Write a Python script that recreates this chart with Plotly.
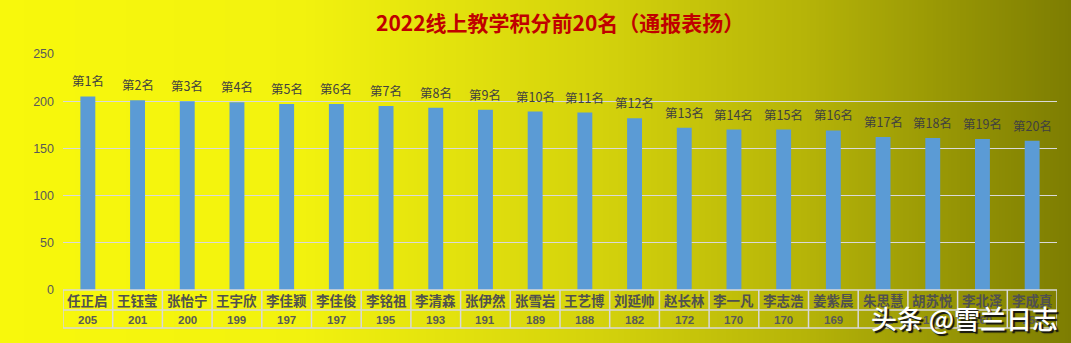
import plotly.graph_objects as go

# 2022 online teaching points: top 20 students
ranks = [f"第{i}名" for i in range(1, 21)]
names = ["任正启", "王钰莹", "张怡宁", "王宇欣", "李佳颖", "李佳俊", "李铭祖", "李清森",
         "张伊然", "张雪岩", "王艺博", "刘延帅", "赵长林", "李一凡", "李志浩", "姜紫晨",
         "朱思慧", "胡苏悦", "李北泽", "李成真"]
scores = [205, 201, 200, 199, 197, 197, 195, 193, 191, 189, 188, 182, 172, 170, 170, 169,
          162, 161, 160, 158]
y_ticks = [0, 50, 100, 150, 200, 250]

W, H = 1071, 343
ML, MR, MT, MB = 63, 14, 54, 53
PW, PH = W - ML - MR, H - MT - MB
CJK = "Noto Sans CJK SC"
GRID = "#D9D9D9"
TXT = "#404040"


def px_x(px):
    return (px - ML) / PW


def px_y(py):
    return (H - MB - py) / PH


def lerp_color(t):
    stops = [(0.0, (248, 248, 12)), (0.28, (242, 242, 14)), (0.56, (212, 210, 12)),
             (0.75, (182, 180, 8)), (1.0, (125, 125, 2))]
    for (t0, c0), (t1, c1) in zip(stops, stops[1:]):
        if t <= t1:
            f = (t - t0) / (t1 - t0)
            return "rgb(%d,%d,%d)" % tuple(round(a + (b - a) * f) for a, b in zip(c0, c1))
    return "rgb(%d,%d,%d)" % stops[-1][1]


shapes = []
# horizontal gradient background built from thin strips
step = 3
for x0 in range(0, W, step):
    shapes.append(dict(type="rect", xref="paper", yref="paper", layer="below",
                       x0=px_x(x0), x1=px_x(x0 + step + 0.5), y0=px_y(H), y1=px_y(0),
                       fillcolor=lerp_color((x0 + step / 2) / W), line_width=0))

n = len(names)
x = list(range(n))

# data table grid lines under the axis
row1_bot, row2_bot = 310, 328
line = dict(color=GRID, width=1.5)
shapes.append(dict(type="line", xref="x", yref="paper", x0=-0.5, x1=n - 0.5,
                   y0=px_y(H - MB), y1=px_y(H - MB), line=line))
left_tab = -0.5 + (23 - ML) / (PW / n)
for yy in (row1_bot, row2_bot):
    shapes.append(dict(type="line", xref="x", yref="paper", x0=left_tab, x1=n - 0.5,
                       y0=px_y(yy), y1=px_y(yy), line=line))
shapes.append(dict(type="line", xref="x", yref="paper", x0=left_tab, x1=left_tab,
                   y0=px_y(row1_bot), y1=px_y(row2_bot), line=line))
for i in range(n + 1):
    shapes.append(dict(type="line", xref="x", yref="paper", x0=i - 0.5, x1=i - 0.5,
                       y0=px_y(H - MB), y1=px_y(row2_bot), line=line))

annotations = []
for i, (r, v) in enumerate(zip(ranks, scores)):
    annotations.append(dict(x=i, y=v, xref="x", yref="y", text=r, showarrow=False,
                            yanchor="bottom", yshift=4,
                            font=dict(family=CJK, size=12.5, color=TXT)))
for i, (nm, v) in enumerate(zip(names, scores)):
    annotations.append(dict(x=i, y=px_y(300), xref="x", yref="paper", text=f"<b>{nm}</b>",
                            showarrow=False, yanchor="middle", xanchor="center",
                            font=dict(family=CJK, size=13.5, color="#505050")))
    annotations.append(dict(x=i, y=px_y(319.5), xref="x", yref="paper", text=f"<b>{v}</b>",
                            showarrow=False, yanchor="middle", xanchor="center",
                            font=dict(family="Liberation Sans", size=11.5, color="#595959")))
annotations.append(dict(x=(left_tab - 0.5) / 2, y=px_y(319.5), xref="x", yref="paper",
                        text="<span style='color:#5B9BD5'>■</span><b>积分</b>",
                        showarrow=False, yanchor="middle", xanchor="center",
                        font=dict(family=CJK, size=13.5, color="#505050")))
annotations.append(dict(x=0.5, y=px_y(22), xref="paper", yref="paper",
                        text="<b>2022线上教学积分前20名（通报表扬）</b>", showarrow=False,
                        yanchor="middle", xanchor="center",
                        font=dict(family=CJK, size=21, color="#C00000")))
annotations.append(dict(x=px_x(1060), y=px_y(317), xref="paper", yref="paper",
                        text="头条 @雪兰日志", showarrow=False, xanchor="right",
                        yanchor="middle",
                        font=dict(family=CJK, size=26, color="white", weight=500,
                                  shadow="2px 2px 1px #111111")))

fig = go.Figure(go.Bar(x=x, y=scores, marker=dict(color="#5B9BD5", line_width=0),
                       width=0.3, hoverinfo="skip"))

fig.update_layout(
    width=W, height=H, margin=dict(l=ML, r=MR, t=MT, b=MB),
    paper_bgcolor="rgba(0,0,0,0)", plot_bgcolor="rgba(0,0,0,0)",
    showlegend=False, shapes=shapes, annotations=annotations,
    xaxis=dict(range=[-0.5, n - 0.5], showticklabels=False, showgrid=False,
               zeroline=False, showline=False, fixedrange=True),
    yaxis=dict(range=[0, 250], tickvals=y_ticks, showgrid=True, gridcolor=GRID,
               gridwidth=1, zeroline=False, showline=False, ticks="",
               ticklabelstandoff=8,
               tickfont=dict(family="Liberation Sans", size=12.5, color="#595959"),
               fixedrange=True),
)

fig.write_html("out.html")
